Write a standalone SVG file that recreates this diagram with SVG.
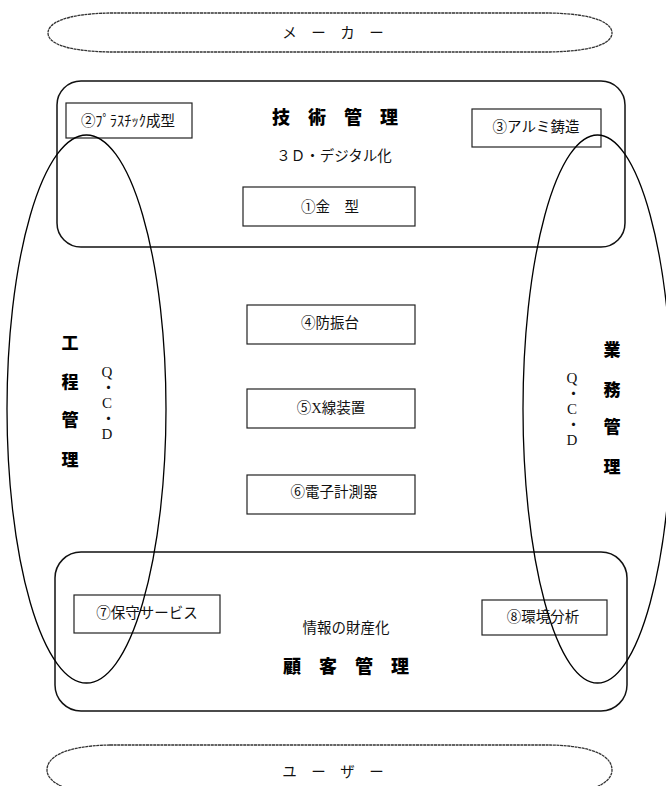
<svg xmlns="http://www.w3.org/2000/svg" width="666" height="786" viewBox="0 0 666 786">
<style>
  .bg { fill: #ffffff; }
  .oval { fill: none; stroke: #333; stroke-width: 1.3; stroke-dasharray: 3 0.6; }
  .panel { fill: none; stroke: #111; stroke-width: 1.5; }
  .box { fill: none; stroke: #222; stroke-width: 1.2; }
  .ring { fill: none; stroke: #000; stroke-width: 1.3; }
  .t { font-family: "Noto Sans CJK JP", sans-serif; font-size: 14.5px; fill: #111; text-anchor: middle; }
  .ts { font-family: "Liberation Serif", "Noto Sans CJK JP", serif; font-size: 14.5px; fill: #111; text-anchor: middle; }
  .title { font-family: "Noto Sans CJK JP", sans-serif; font-size: 18px; font-weight: 900; fill: #000; text-anchor: middle; }
  .vt { font-family: "Noto Sans CJK JP", sans-serif; font-size: 17px; font-weight: 900; fill: #000; text-anchor: middle; }
  .q { font-family: "Liberation Serif", "Noto Sans CJK JP", serif; font-size: 15px; fill: #111; writing-mode: vertical-rl; text-orientation: upright; }
</style>
<rect class="bg" x="0" y="0" width="666" height="786"/>

<g id="maker">
  <path class="oval" d="M110,13 L550,13 C598,14 612,24 612,33 C612,42 598,51 550,52 L110,52 C62,51 48,42 48,33 C48,24 62,14 110,13 Z"/>
  <text class="t" x="333" y="38" font-size="14">メ　ー　カ　ー</text>
</g>

<g id="user">
  <path class="oval" d="M110,745 L550,745 C598,746 612,758 612,770 C612,780 600,788 580,792 L80,792 C60,788 47,780 47,770 C47,758 62,746 110,745 Z"/>
  <text class="t" x="333" y="777" font-size="14">ユ　ー　ザ　ー</text>
</g>

<g id="gijutsu-kanri">
  <rect class="panel" x="57" y="81" width="568" height="166" rx="24" ry="24"/>
  <text class="title" x="335" y="124">技　術　管　理</text>
  <text class="ts" x="334" y="161" font-size="14">３Ｄ・デジタル化</text>
</g>

<g id="kokyaku-kanri">
  <rect class="panel" x="55" y="552" width="572" height="159" rx="26" ry="26"/>
  <text class="t" x="346" y="633">情報の財産化</text>
  <text class="title" x="346" y="673">顧　客　管　理</text>
</g>

<g id="node-1">
  <rect class="box" x="243" y="187" width="172" height="39"/>
  <text class="t" x="330" y="212">①金　型</text>
</g>
<g id="node-2">
  <rect class="box" x="66" y="103" width="126" height="35"/>
  <text class="t" x="128" y="126">②ﾌﾟﾗｽﾁｯｸ成型</text>
</g>
<g id="node-3">
  <rect class="box" x="472" y="109" width="129" height="38"/>
  <text class="t" x="536" y="132">③アルミ鋳造</text>
</g>
<g id="node-4">
  <rect class="box" x="247" y="305" width="168" height="39"/>
  <text class="t" x="330" y="328">④防振台</text>
</g>
<g id="node-5">
  <rect class="box" x="247" y="389" width="168" height="39"/>
  <text class="ts" x="331" y="413">⑤X線装置</text>
</g>
<g id="node-6">
  <rect class="box" x="247" y="475" width="168" height="39"/>
  <text class="t" x="334" y="497">⑥電子計測器</text>
</g>
<g id="node-7">
  <rect class="box" x="74" y="595" width="146" height="38"/>
  <text class="t" x="147" y="618">⑦保守サービス</text>
</g>
<g id="node-8">
  <rect class="box" x="482" y="600" width="125" height="35"/>
  <text class="t" x="543" y="622">⑧環境分析</text>
</g>

<g id="koutei-kanri">
  <ellipse class="ring" cx="86.5" cy="409" rx="79.5" ry="274"/>
  <text class="vt" x="70" y="349">工</text>
  <text class="vt" x="70" y="388">程</text>
  <text class="vt" x="70" y="426">管</text>
  <text class="vt" x="70" y="466">理</text>
  <text class="q" x="107" y="364">Q・C・D</text>
</g>

<g id="gyoumu-kanri">
  <ellipse class="ring" cx="597.5" cy="409" rx="74.5" ry="274"/>
  <text class="vt" x="612" y="356">業</text>
  <text class="vt" x="612" y="396">務</text>
  <text class="vt" x="612" y="433">管</text>
  <text class="vt" x="612" y="473">理</text>
  <text class="q" x="572" y="370">Q・C・D</text>
</g>
</svg>
